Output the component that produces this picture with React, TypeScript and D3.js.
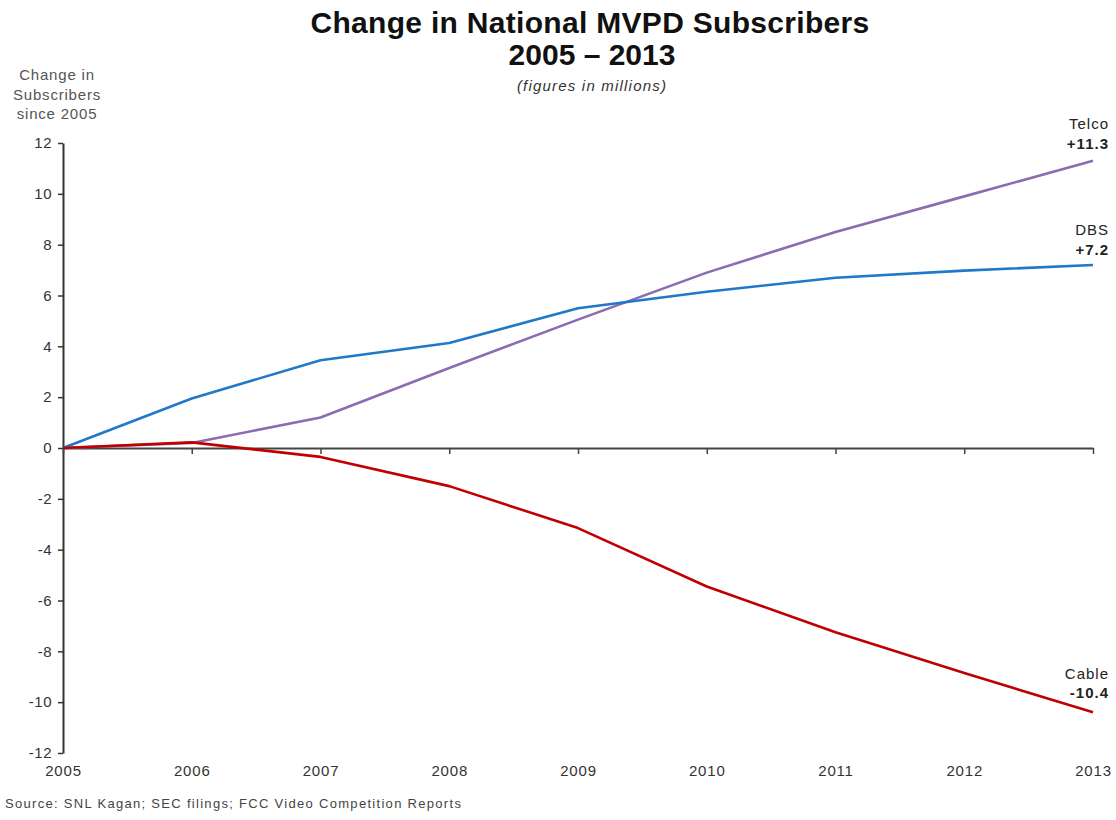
import { useRef, useEffect } from 'react';
import { select, scaleLinear, axisLeft, axisBottom, line, range } from 'd3';

const years = [2005, 2006, 2007, 2008, 2009, 2010, 2011, 2012, 2013];
const telco = [0, 0.2, 1.2, 3.15, 5.05, 6.9, 8.5, 9.9, 11.3];
const dbs = [0, 1.95, 3.45, 4.13, 5.5, 6.15, 6.7, 6.98, 7.2];
const cable = [0, 0.22, -0.35, -1.5, -3.15, -5.45, -7.25, -8.85, -10.4];

const series = [
  { name: 'Telco', label: '+11.3', values: telco, color: '#8c6bb1', labelY: 11.3, dy: [-32, -12] },
  { name: 'DBS', label: '+7.2', values: dbs, color: '#1f78c8', labelY: 7.2, dy: [-30, -10] },
  { name: 'Cable', label: '-10.4', values: cable, color: '#c00000', labelY: -10.4, dy: [-33, -14] },
];

const yTicks = range(-12, 13, 2);

const W = 1116;
const H = 820;
const left = 63;
const right = 1093;
const top = 143;
const bottom = 753;

const FONT = '"Liberation Sans", Arial, sans-serif';

const App = () => {
  const svgRef = useRef<SVGSVGElement | null>(null);

  const x = scaleLinear().domain([2005, 2013]).range([left, right]);
  const y = scaleLinear().domain([-12, 12]).range([bottom, top]);

  useEffect(() => {
    const svg = select(svgRef.current);
    svg.selectAll('*').remove();

    // y axis
    const gy = svg
      .append('g')
      .attr('transform', `translate(${left},0)`)
      .call(
        axisLeft(y)
          .tickValues(yTicks)
          .tickSize(5)
          .tickSizeOuter(0)
          .tickPadding(6)
          .tickFormat((d) => String(d))
      );
    gy.select('.domain').attr('stroke', '#333').attr('stroke-width', 2);
    gy.selectAll('.tick line').attr('stroke', '#333').attr('stroke-width', 1.5);
    gy.selectAll('.tick text')
      .attr('fill', '#333')
      .style('font', `15px ${FONT}`)
      .style('letter-spacing', '0.5px');

    // x axis at zero
    const gx = svg
      .append('g')
      .attr('transform', `translate(0,${y(0)})`)
      .call(axisBottom(x).tickValues(years).tickSize(6).tickSizeOuter(0).tickFormat(() => ''));
    gx.select('.domain').attr('stroke', '#444').attr('stroke-width', 2);
    gx.selectAll('.tick line').attr('stroke', '#444').attr('stroke-width', 1.5);

    // year labels under the plot
    const gl = svg
      .append('g')
      .attr('transform', `translate(0,${bottom + 9})`)
      .call(axisBottom(x).tickValues(years).tickSize(0).tickFormat((d) => String(d)));
    gl.select('.domain').remove();
    gl.selectAll('.tick text')
      .attr('fill', '#333')
      .style('font', `15px ${FONT}`)
      .style('letter-spacing', '0.8px');

    const lineGen = line<number>()
      .x((d, i) => x(years[i]))
      .y((d) => y(d));

    svg
      .selectAll('.series')
      .data(series)
      .join('path')
      .attr('class', 'series')
      .attr('d', (s) => lineGen(s.values))
      .attr('fill', 'none')
      .attr('stroke', (s) => s.color)
      .attr('stroke-width', 2.6)
      .attr('stroke-linejoin', 'round');

    // end labels
    const lab = svg
      .selectAll('.endlabel')
      .data(series)
      .join('g')
      .attr('class', 'endlabel')
      .attr('transform', (s) => `translate(1109,${y(s.labelY)})`)
      .style('font-family', FONT)
      .style('font-size', '15px')
      .style('letter-spacing', '1px')
      .attr('fill', '#222')
      .attr('text-anchor', 'end');
    lab.append('text').attr('y', (s) => s.dy[0]).text((s) => s.name);
    lab
      .append('text')
      .attr('y', (s) => s.dy[1])
      .attr('font-weight', 'bold')
      .text((s) => s.label);
  }, []);

  return (
    <div style={{ position: 'absolute', left: 0, top: 0 }}>
      <svg width={W} height={H} style={{ display: 'block', background: '#fff' }}>
        <text
          x={590}
          y={33}
          textAnchor="middle"
          style={{ font: `bold 30px ${FONT}`, letterSpacing: '0.3px' }}
          fill="#111"
        >
          Change in National MVPD Subscribers
        </text>
        <text
          x={592}
          y={65}
          textAnchor="middle"
          style={{ font: `bold 30px ${FONT}` }}
          fill="#111"
        >
          2005 – 2013
        </text>
        <text
          x={592}
          y={91}
          textAnchor="middle"
          style={{ font: `italic 15px ${FONT}`, letterSpacing: '1.2px' }}
          fill="#333"
        >
          (figures in millions)
        </text>
        <g
          style={{ font: `15px ${FONT}`, letterSpacing: '0.8px' }}
          fill="#555"
          textAnchor="middle"
        >
          <text x={57} y={80}>Change in</text>
          <text x={57} y={100}>Subscribers</text>
          <text x={57} y={119}>since 2005</text>
        </g>
        <text
          x={5}
          y={808}
          style={{ font: `13px ${FONT}`, letterSpacing: '1.3px' }}
          fill="#444"
        >
          Source: SNL Kagan; SEC filings; FCC Video Competition Reports
        </text>
        <g ref={svgRef} />
      </svg>
    </div>
  );
};

export default App;
